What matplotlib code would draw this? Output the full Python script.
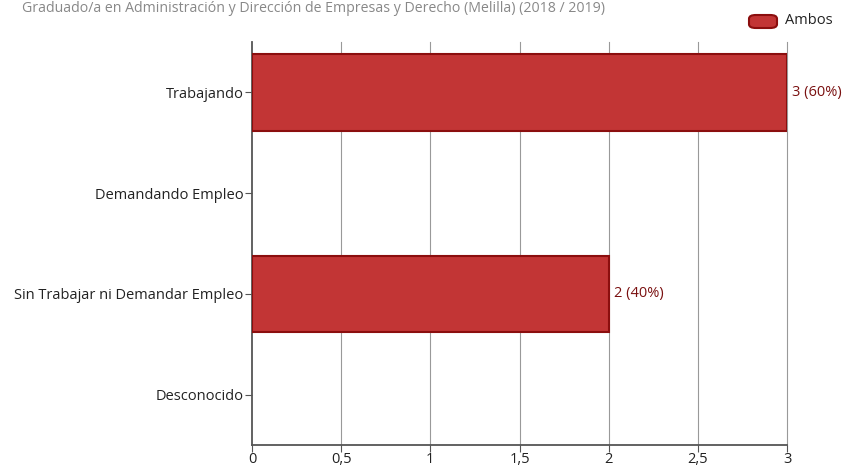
import numpy as np
import matplotlib.pyplot as plt
from matplotlib.patches import FancyBboxPatch

plt.rcParams['font.family'] = ['Open Sans', 'DejaVu Sans']

# Data
categories = ["Trabajando", "Demandando Empleo",
              "Sin Trabajar ni Demandar Empleo", "Desconocido"]
values = [3, 0, 2, 0]
percents = [60, 0, 40, 0]
title = "Graduado/a en Administración y Dirección de Empresas y Derecho (Melilla) (2018 / 2019)"
series_name = "Ambos"
xticks = [0, 0.5, 1, 1.5, 2, 2.5, 3]
xtick_labels = ["0", "0,5", "1", "1,5", "2", "2,5", "3"]

fill = "#c23535"
edge = "#8b0e0e"
fs = 10.5

fig = plt.figure(figsize=(8.47, 4.66), dpi=100)
ax = fig.add_axes([252 / 847, 1 - 445 / 466, (787 - 252) / 847, (445 - 42) / 466])

pos = np.arange(len(categories))
nz = [i for i, v in enumerate(values) if v > 0]
ax.barh(pos[nz], [values[i] for i in nz], height=0.76, color=fill,
        edgecolor=edge, linewidth=1.5, zorder=3)
for i in nz:
    ax.text(values[i] + 0.03, pos[i], f"{values[i]} ({percents[i]}%)",
            va="center", ha="left", fontsize=fs, color="#7a1010")

ax.set_ylim(len(categories) - 0.5, -0.5)
ax.set_xlim(0, 3)
ax.set_yticks(pos)
ax.set_yticklabels(categories, fontsize=fs, color="#222222")
ax.set_xticks(xticks)
ax.set_xticklabels(xtick_labels, fontsize=fs, color="#222222")
for t in xticks[1:]:
    ax.axvline(t, color="#999999", linewidth=0.8, zorder=0, clip_on=False)
for s in ["top", "right"]:
    ax.spines[s].set_visible(False)
for s in ["left", "bottom"]:
    ax.spines[s].set_color("#555555")
    ax.spines[s].set_linewidth(1.3)
ax.tick_params(axis="y", length=5, color="#555555", pad=1)
ax.tick_params(axis="x", length=5, color="#555555", pad=0)

fig.text(22 / 847, 1 - 9 / 466, title, fontsize=10.2, color="#888888",
         va="center", ha="left")

# Legend
leg_patch = FancyBboxPatch((749 / 847, 1 - 28 / 466), 28 / 847, 13 / 466,
                           boxstyle="round,pad=0,rounding_size=0.008",
                           transform=fig.transFigure, facecolor=fill,
                           edgecolor=edge, linewidth=1.5)
fig.patches.append(leg_patch)
fig.text(785 / 847, 1 - 21 / 466, series_name, fontsize=fs, color="#222222",
         va="center", ha="left")

fig.savefig("out.png", dpi=100)
